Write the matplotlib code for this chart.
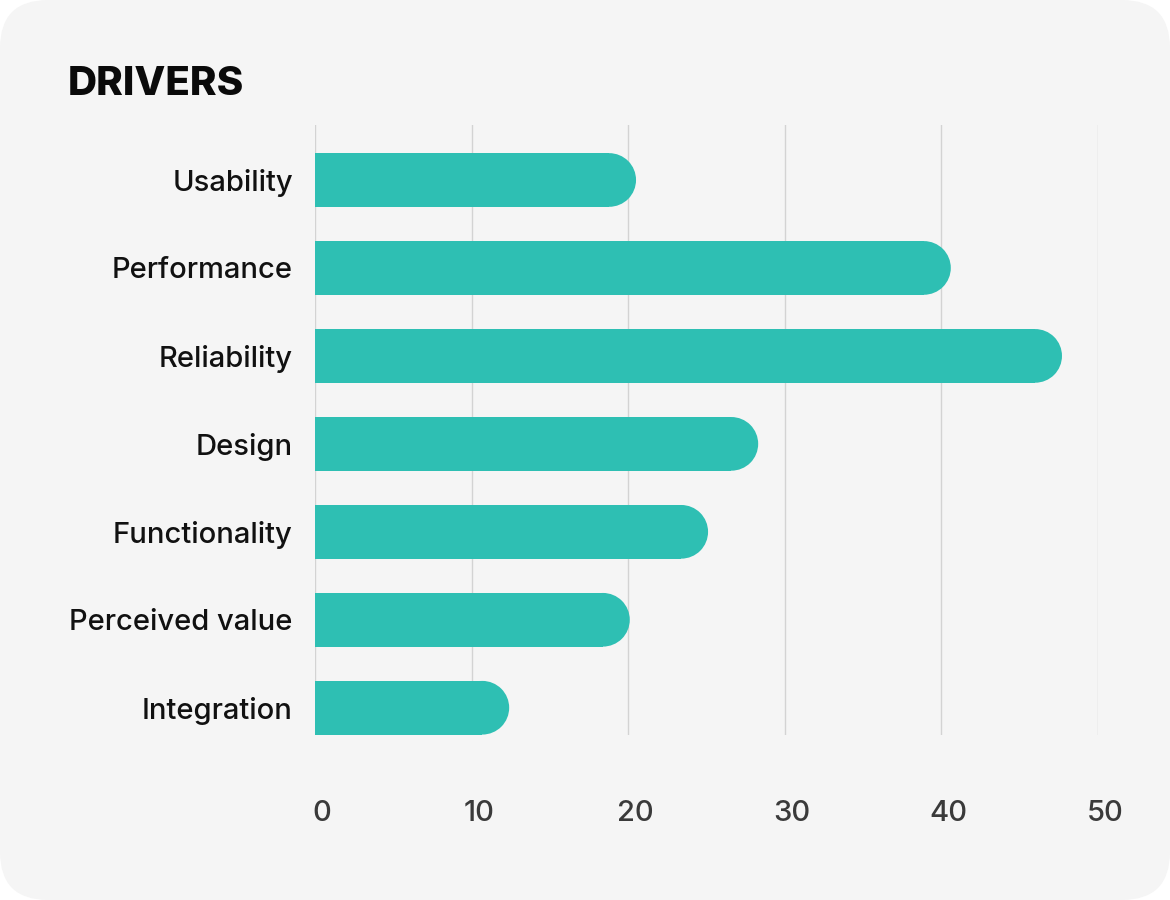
import matplotlib.pyplot as plt
from matplotlib.patches import FancyBboxPatch, Rectangle, Ellipse
from matplotlib.transforms import IdentityTransform, ScaledTranslation

categories = ["Usability", "Performance", "Reliability", "Design",
              "Functionality", "Perceived value", "Integration"]
values = [20.5, 40.6, 47.7, 28.3, 25.1, 20.1, 12.4]
xticks = [0, 10, 20, 30, 40, 50]

plt.rcParams['font.family'] = ['Inter', 'DejaVu Sans']
bar_color = "#2ebfb3"

fig = plt.figure(figsize=(11.7, 9), dpi=100, facecolor="white")
card = FancyBboxPatch((0, 0), 1170, 900, boxstyle="round,pad=0,rounding_size=48",
                      transform=IdentityTransform(), facecolor="#f5f5f5",
                      edgecolor="none", zorder=-5)
fig.patches.append(card)

ax = fig.add_axes([315 / 1170, 1 - 735 / 900, (1098 - 315) / 1170, 610 / 900])
ax.set_facecolor("none")
ax.set_xlim(0, 50)
ax.set_ylim(6.31, -0.625)

# grid
for t in xticks:
    ax.axvline(t, color="#d3d3d3", lw=1, zorder=1)

h = 0.61
# data units per pixel, from the fixed axes layout
px_per_x = (1098 - 315) / 50
px_per_y = 88
for i, v in enumerate(values):
    rx = (h * px_per_y / 2) / px_per_x
    ax.add_patch(Rectangle((0, i - h / 2), v - rx, h, facecolor=bar_color,
                           edgecolor="none", zorder=2))
    ax.add_patch(Ellipse((v - rx, i), 2 * rx, h, facecolor=bar_color,
                         edgecolor="none", zorder=2))

ax.set_yticks(range(len(categories)))
ax.set_yticklabels(categories, fontsize=21, fontweight="medium", color="#111111")
ax.set_xticks(xticks)
ax.set_xticklabels([str(t) for t in xticks], fontsize=21, fontweight="medium",
                   color="#3a3a3a")
ax.tick_params(axis="y", length=0, pad=16)
ax.tick_params(axis="x", length=0, pad=47)
for lab in ax.get_xticklabels():
    lab.set_transform(lab.get_transform() + ScaledTranslation(7 / 100, 0, fig.dpi_scale_trans))
for s in ax.spines.values():
    s.set_visible(False)

fig.text(68 / 1170, 1 - 95 / 900, "DRIVERS", fontsize=29, fontweight="heavy",
         color="#0a0a0a", ha="left", va="baseline")

fig.savefig("out.png", dpi=100)
